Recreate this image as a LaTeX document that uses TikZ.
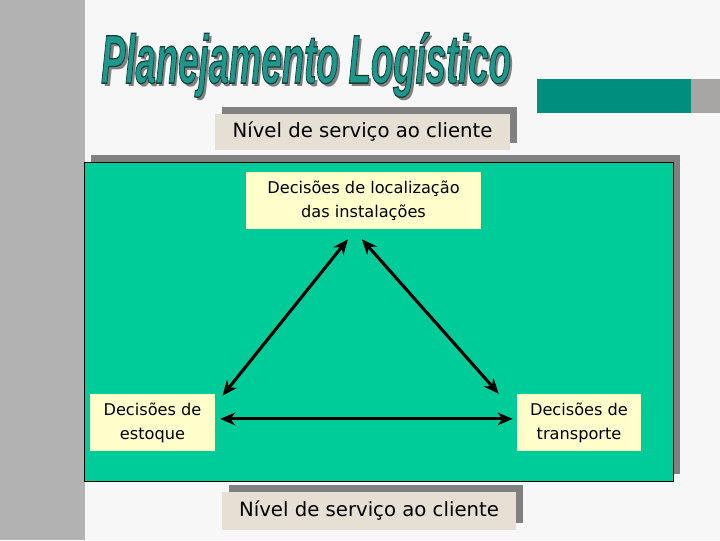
\documentclass[tikz,border=0pt]{standalone}
\usepackage{fontspec}
\usepackage{graphicx}
\usetikzlibrary{arrows.meta,shadows}
\setmainfont{DejaVu Sans}
\newfontfamily\titlefont{Liberation Sans}
\definecolor{pagegrey}{RGB}{247,247,247}
\definecolor{stripgrey}{RGB}{178,178,178}
\definecolor{shadowgrey}{RGB}{128,128,128}
\definecolor{bargrey}{RGB}{168,165,165}
\definecolor{barteal}{RGB}{0,142,126}
\definecolor{panelgreen}{RGB}{0,204,153}
\definecolor{labelbeige}{RGB}{230,224,212}
\definecolor{notecream}{RGB}{255,255,204}
\definecolor{titleteal}{RGB}{30,152,140}

% outlined title text (fill + stroke)
\newcommand{\outlinedtitle}[1]{%
  \special{pdf:literal direct 2 Tr 0.08 0.24 0.22 RG 0.9 w}#1\special{pdf:literal direct 0 Tr}}

\tikzset{
  flatshadow/.style={drop shadow={shadow xshift=0.175cm, shadow yshift=0.175cm, fill=shadowgrey, opacity=1}},
  titletext/.style={inner sep=0pt, font=\titlefont\bfseries\itshape\fontsize{49}{50}\selectfont},
  servicebox/.style={fill=labelbeige, flatshadow, minimum height=0.92cm, inner sep=0pt, font=\fontsize{14}{16}\selectfont},
  decisionbox/.style={fill=notecream, align=center, minimum height=1.425cm, inner sep=0pt, font=\fontsize{11.5}{17}\selectfont},
  twoway/.style={{Stealth[length=0.38cm,width=0.32cm]}-{Stealth[length=0.38cm,width=0.32cm]}, line width=2.2pt}
}

\begin{document}
\begin{tikzpicture}[x=0.025cm,y=-0.025cm]
  \useasboundingbox (0,0) rectangle (720,540);
  \fill[pagegrey] (0,0) rectangle (720,540);
  \fill[stripgrey] (0,0) rectangle (85,540);
  % title and bar
  \fill[barteal] (537,79) rectangle (691,113);
  \fill[bargrey] (691,79) rectangle (720,113);
  \node[titletext, text=shadowgrey] (titleshadow) at (309,68) {\scalebox{0.53}[1]{Planejamento Logístico}};
  \node[titletext, text=titleteal] (title) at (306,65) {\scalebox{0.53}[1]{\outlinedtitle{Planejamento Logístico}}};
  % service level, top
  \node[servicebox, minimum width=7.375cm] (servicetop) at (362.5,132) {Nível de serviço ao cliente};
  % green panel
  \node[draw=black, fill=panelgreen, flatshadow, minimum width=14.725cm, minimum height=7.975cm] (panel) at (378.5,321.5) {};
  \node[decisionbox, minimum width=5.875cm] (loc) at (363.5,200.5) {Decisões de localização\\das instalações};
  \node[decisionbox, minimum width=3.125cm] (stock) at (152.5,422.5) {Decisões de\\estoque};
  \node[decisionbox, minimum width=3.1cm] (transport) at (579,422.5) {Decisões de\\transporte};
  % arrows
  \draw[twoway] ([xshift=-0.39cm,yshift=-0.25cm]loc.south) -- ([xshift=0.18cm,yshift=-0.05cm]stock.north east);
  \draw[twoway] ([xshift=-0.04cm,yshift=-0.25cm]loc.south) -- ([xshift=-0.45cm,yshift=0cm]transport.north west);
  \draw[twoway] ([xshift=0.12cm,yshift=0.09cm]stock.east) -- ([xshift=-0.1cm,yshift=0.09cm]transport.west);
  % service level, bottom
  \node[servicebox, minimum width=7.35cm, minimum height=0.95cm] (servicebottom) at (369,511) {Nível de serviço ao cliente};
\end{tikzpicture}
\end{document}
